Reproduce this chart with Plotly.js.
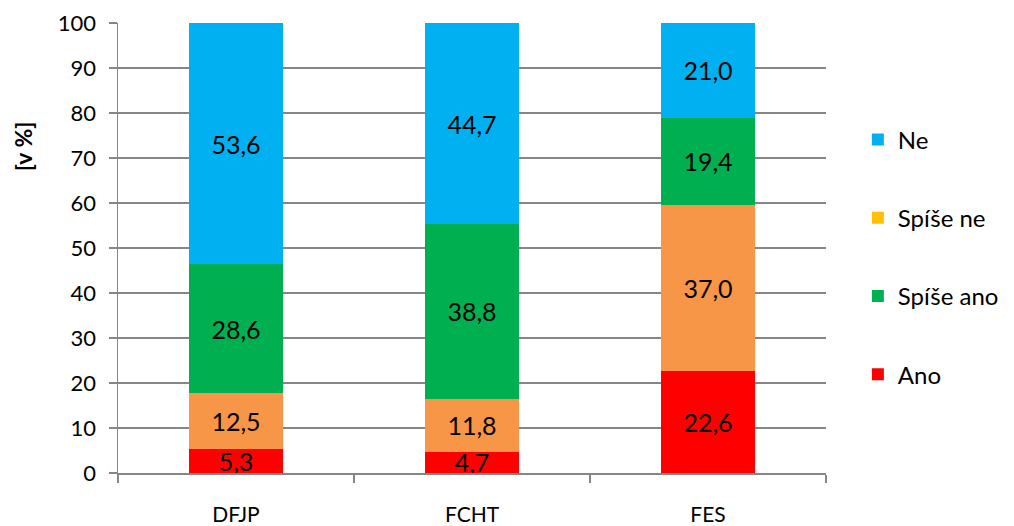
<!DOCTYPE html>
<html><head><meta charset="utf-8">
<script src="https://cdn.plot.ly/plotly-3.0.1.min.js"></script>
<style>html,body{margin:0;padding:0;background:#fff}#c{width:1014px;height:526px}</style>
</head><body><div id="c"></div>
<script>
const categories = ['DFJP', 'FCHT', 'FES'];
const ano = [5.3, 4.7, 22.6];
const spiseNe = [12.5, 11.8, 37.0];
const spiseAno = [28.6, 38.8, 19.4];
const ne = [53.6, 44.7, 21.0];
const seriesNames = ['Ano', 'Spíše ne', 'Spíše ano', 'Ne'];
const yTitle = '[v %]';
const barColors = ['#FF0000', '#F79646', '#00B050', '#00B0F0'];
const legendOnlyColor = '#FFC000';

const FONT = 'Lato, "Open Sans", sans-serif';
function barTrace(name, y, color, showlegend, rank) {
  return {
    type: 'bar', x: categories, y: y, name: name,
    marker: {color: color, line: {width: 0}},
    texttemplate: '%{y:.1f}', textposition: 'inside', insidetextanchor: 'middle',
    textangle: 0, constraintext: 'none',
    textfont: {family: FONT, size: 25, color: '#000'},
    showlegend: showlegend, legendgroup: 'g' + rank, legendrank: rank, hoverinfo: 'skip'
  };
}
const traces = [
  barTrace(seriesNames[0], ano, barColors[0], true, 4),
  barTrace(seriesNames[1], spiseNe, barColors[1], false, 2),
  {type: 'bar', x: [categories[0]], y: [0], name: seriesNames[1], marker: {color: legendOnlyColor},
   showlegend: true, legendgroup: 'g2', legendrank: 2, hoverinfo: 'skip', textposition: 'none'},
  barTrace(seriesNames[2], spiseAno, barColors[2], true, 3),
  barTrace(seriesNames[3], ne, barColors[3], true, 1)
];
const layout = {
  width: 1014, height: 526,
  margin: {l: 118, r: 188, t: 23, b: 53, autoexpand: false},
  barmode: 'stack', bargap: 0.6,
  separators: ',.',
  paper_bgcolor: '#fff', plot_bgcolor: '#fff',
  font: {family: FONT, size: 20, color: '#000'},
  xaxis: {
    showgrid: false, showline: true, linecolor: '#868686', linewidth: 1.5,
    ticks: 'outside', tickson: 'boundaries', ticklen: 8, tickcolor: '#868686', tickwidth: 1.5,
    tickfont: {family: FONT, size: 21}, ticklabelstandoff: 22, zeroline: false
  },
  yaxis: {
    range: [0, 100], dtick: 10, showgrid: true, gridcolor: '#868686', gridwidth: 1.2,
    showline: true, linecolor: '#868686', linewidth: 1.5, zeroline: false,
    ticks: 'outside', ticklen: 8, tickcolor: '#868686', tickwidth: 1.5,
    tickfont: {family: FONT, size: 22}, ticklabelstandoff: 8
  },
  annotations: [{
    text: yTitle, textangle: -90, xref: 'paper', yref: 'paper',
    x: -0.135, y: 0.727, xanchor: 'center', yanchor: 'middle', showarrow: false,
    font: {family: FONT, size: 23, weight: 'bold', color: '#000'}
  }],
  legend: {
    traceorder: 'grouped', tracegroupgap: 44,
    x: 1.045, xanchor: 'left', xref: 'paper', y: 0.48, yanchor: 'middle',
    font: {family: FONT, size: 24}, itemwidth: 30
  }
};
Plotly.newPlot('c', traces, layout, {displayModeBar: false, staticPlot: true});
</script></body></html>
